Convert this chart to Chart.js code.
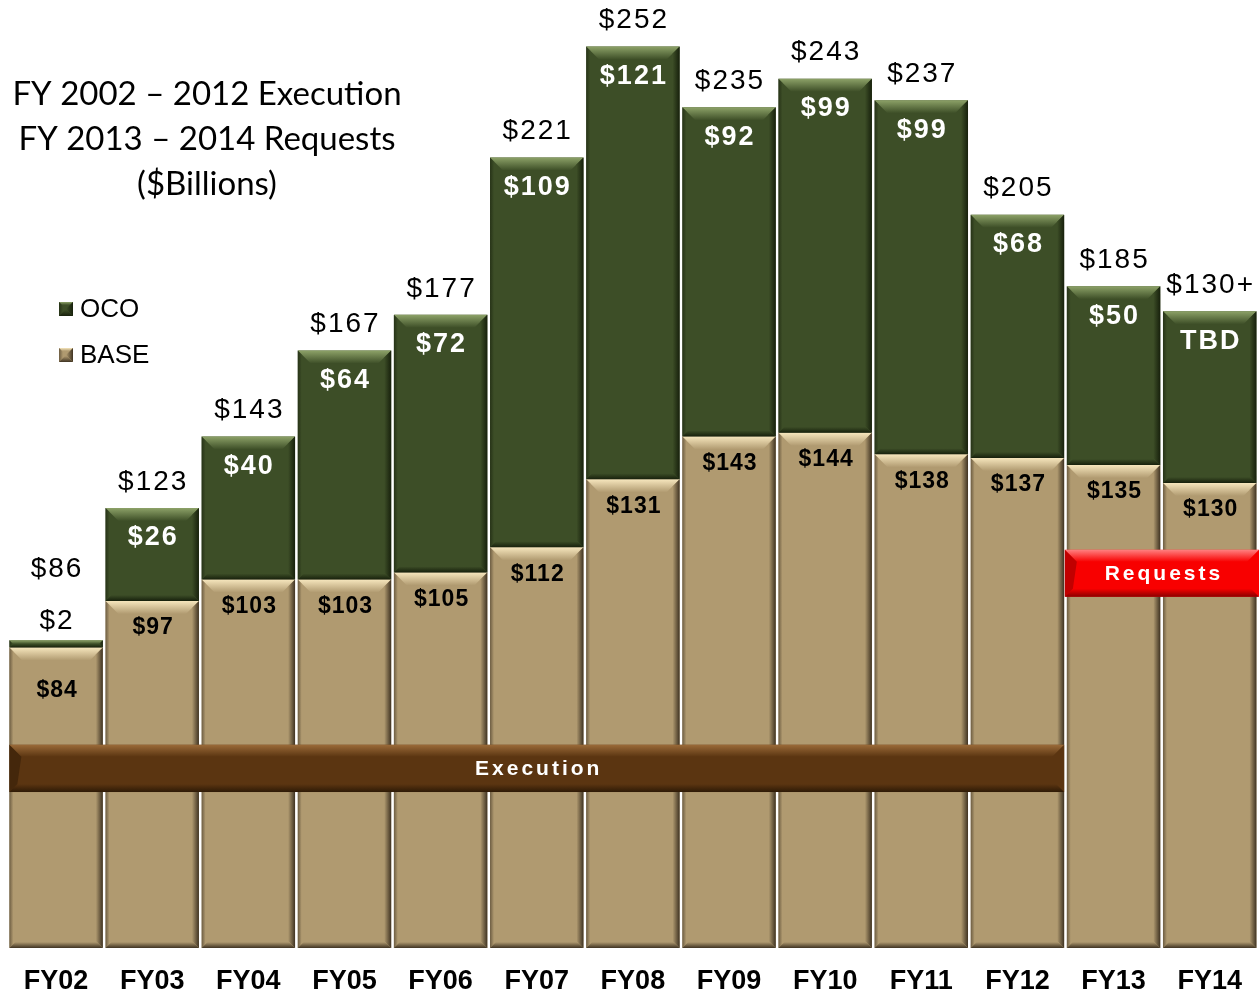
<!DOCTYPE html>
<html>
<head>
<meta charset="utf-8">
<script src="https://cdn.jsdelivr.net/npm/chart.js"></script>
<style>
  body { margin: 0; background: #fff; }
  #wrap { width: 1259px; height: 994px; position: relative; }
</style>
</head>
<body>
<div id="wrap"><canvas id="myChart" width="1259" height="994"></canvas></div>
<script>
// data ($ billions)
var years = ['FY02','FY03','FY04','FY05','FY06','FY07','FY08','FY09','FY10','FY11','FY12','FY13','FY14']
var baseVals = [84,97,103,103,105,112,131,143,144,138,137,135,130]
var ocoVals = [2,26,40,64,72,109,121,92,99,99,68,50,48]   // FY14 drawn as placeholder (TBD)
var ocoLabels = ['$2','$26','$40','$64','$72','$109','$121','$92','$99','$99','$68','$50','TBD']
var totalLabels = ['$86','$123','$143','$167','$177','$221','$252','$235','$243','$237','$205','$185','$130+']
var titleLines = ['FY 2002 \u2013 2012 Execution','FY 2013 \u2013 2014 Requests','($Billions)']

var ctx = document.getElementById('myChart').getContext('2d')

var TAN = {fill:'#b09a70', light:'#f6e6bd', dark:'#3f3322'}
var GREEN = {fill:'#3d4e27', light:'#8da268', dark:'#17200c'}
var FONT = '"Liberation Sans", Arial, sans-serif'

function bevel(c, left, top, right, bottom, col, b){
  let h = bottom - top
  b = Math.min(b, h/2)
  // top highlight
  let g = c.createLinearGradient(0, top, 0, top + b)
  g.addColorStop(0, col.light); g.addColorStop(1, col.fill)
  c.fillStyle = g
  c.beginPath()
  c.moveTo(left, top); c.lineTo(right, top); c.lineTo(right - b, top + b); c.lineTo(left + b, top + b)
  c.closePath(); c.fill()
  // right shadow
  let s = Math.min(7, h/2)
  g = c.createLinearGradient(right - s, 0, right, 0)
  g.addColorStop(0, col.fill); g.addColorStop(1, col.dark)
  c.fillStyle = g
  c.beginPath()
  c.moveTo(right, top); c.lineTo(right, bottom); c.lineTo(right - s, bottom - s); c.lineTo(right - s, top + s)
  c.closePath(); c.fill()
  // left shadow
  let l = Math.min(4, h/2)
  g = c.createLinearGradient(left, 0, left + l, 0)
  g.addColorStop(0, col.dark); g.addColorStop(1, col.fill)
  c.globalAlpha = 0.6
  c.fillStyle = g
  c.beginPath()
  c.moveTo(left, top); c.lineTo(left + l, top + l); c.lineTo(left + l, bottom - l); c.lineTo(left, bottom)
  c.closePath(); c.fill()
  c.globalAlpha = 1
  // bottom shadow
  let d = Math.min(6, h/2)
  g = c.createLinearGradient(0, bottom - d, 0, bottom)
  g.addColorStop(0, col.fill); g.addColorStop(1, col.dark)
  c.fillStyle = g
  c.beginPath()
  c.moveTo(left + d, bottom - d); c.lineTo(right - d, bottom - d); c.lineTo(right, bottom); c.lineTo(left, bottom)
  c.closePath(); c.fill()
}

function band(c, left, top, right, bottom, fill, light, dark, text){
  c.fillStyle = fill
  c.fillRect(left, top, right - left, bottom - top)
  let g = c.createLinearGradient(0, top, 0, top + 12)
  g.addColorStop(0, light); g.addColorStop(1, fill)
  c.fillStyle = g
  c.beginPath()
  c.moveTo(left, top); c.lineTo(right, top); c.lineTo(right - 12, top + 12); c.lineTo(left + 12, top + 12)
  c.closePath(); c.fill()
  g = c.createLinearGradient(0, bottom - 8, 0, bottom)
  g.addColorStop(0, fill); g.addColorStop(1, dark)
  c.fillStyle = g
  c.beginPath()
  c.moveTo(left + 8, bottom - 8); c.lineTo(right - 8, bottom - 8); c.lineTo(right, bottom); c.lineTo(left, bottom)
  c.closePath(); c.fill()
  c.fillStyle = dark
  c.globalAlpha = 0.5
  c.beginPath()
  c.moveTo(left, top); c.lineTo(left + 12, top + 12); c.lineTo(left + 8, bottom - 8); c.lineTo(left, bottom)
  c.closePath(); c.fill()
  c.globalAlpha = 1
  c.fillStyle = '#fff'
  c.font = 'bold 21px ' + FONT
  c.letterSpacing = '3px'
  c.textAlign = 'center'; c.textBaseline = 'middle'
  c.fillText(text, (left + right) / 2 + 2, (top + bottom) / 2 + 1)
  c.letterSpacing = '0px'
}

var decor = {
  id: 'decor',
  afterDatasetsDraw(chart){
    let c = chart.ctx
    let ys = chart.scales.y
    let m0 = chart.getDatasetMeta(0).data, m1 = chart.getDatasetMeta(1).data
    c.save()
    m0.forEach((bar, i) => {
      let w = bar.width
      bevel(c, bar.x - w/2, bar.y, bar.x + w/2, bar.base, TAN, 13)
      let o = m1[i]
      bevel(c, o.x - w/2, o.y, o.x + w/2, o.base, GREEN, 13)
    })
    // bands
    let l0 = m0[0].x - m0[0].width/2, r10 = m0[10].x + m0[10].width/2
    band(c, l0, ys.getPixelForValue(56.8), r10, ys.getPixelForValue(43.6), '#5b3511', '#9a6a38', '#2e1a06', 'Execution')
    let l11 = m0[11].x - m0[11].width/2 - 2, r12 = chart.width
    band(c, l11, ys.getPixelForValue(111.3), r12, ys.getPixelForValue(98.2), '#f80000', '#ff8080', '#8a0000', 'Requests')

    // labels
    c.textAlign = 'center'; c.textBaseline = 'middle'
    m0.forEach((bar, i) => {
      let o = m1[i]
      c.fillStyle = '#000'
      c.font = '28px ' + FONT
      c.letterSpacing = '2px'
      if (i == 0) {
        c.fillText(totalLabels[i], bar.x + 1, o.y - 71)
        c.fillText(ocoLabels[i], bar.x + 1, o.y - 19)
        c.font = 'bold 23px ' + FONT
        c.letterSpacing = '1px'
        c.fillText('$' + baseVals[i], bar.x + 1, bar.y + 43)
        c.letterSpacing = '0px'
        return
      }
      c.fillText(totalLabels[i], bar.x + 1, o.y - 26)
      c.fillStyle = '#fff'
      c.font = 'bold 27px ' + FONT
      c.fillText(ocoLabels[i], o.x + 1, o.y + 30)
      c.fillStyle = '#000'
      c.font = 'bold 23px ' + FONT
      c.letterSpacing = '1px'
      c.fillText('$' + baseVals[i], bar.x + 1, bar.y + 27)
      c.letterSpacing = '0px'
    })

    // title
    c.font = '33px Lato, "Noto Sans", sans-serif'
    c.fillStyle = '#000'
    titleLines.forEach((t, k) => c.fillText(t, 207, 94 + k * 45))

    // legend
    let leg = [['OCO', GREEN, 309], ['BASE', TAN, 355]]
    leg.forEach(it => {
      c.fillStyle = it[1].fill
      c.fillRect(59, it[2] - 7, 14, 14)
      bevel(c, 59, it[2] - 7, 73, it[2] + 7, it[1], 3)
      c.fillStyle = '#000'
      c.font = '26px ' + FONT
      c.textAlign = 'left'
      c.fillText(it[0], 80, it[2] + 1)
      c.textAlign = 'center'
    })
    c.restore()
  }
}

var myChart = new Chart(ctx, {
  type: 'bar',
  data: {
    labels: years,
    datasets: [
      { label: 'BASE', data: baseVals, backgroundColor: TAN.fill, borderWidth: 0 },
      { label: 'OCO', data: ocoVals, backgroundColor: GREEN.fill, borderWidth: 0 }
    ]
  },
  options: {
    responsive: false,
    animation: false,
    layout: { padding: { left: 8, right: 1, top: 0, bottom: 0 } },
    datasets: { bar: { categoryPercentage: 1, barPercentage: 0.972 } },
    plugins: { legend: { display: false }, tooltip: { enabled: false } },
    scales: {
      x: {
        stacked: true,
        grid: { display: false, drawTicks: false },
        border: { display: false },
        afterFit(scale){ scale.height = 46 },
        ticks: {
          color: '#000',
          padding: 17,
          maxRotation: 0,
          font: { family: FONT, size: 27, weight: 'bold' }
        }
      },
      y: {
        stacked: true,
        display: false,
        min: 0,
        max: 265
      }
    }
  },
  plugins: [decor]
})
</script>
</body>
</html>
